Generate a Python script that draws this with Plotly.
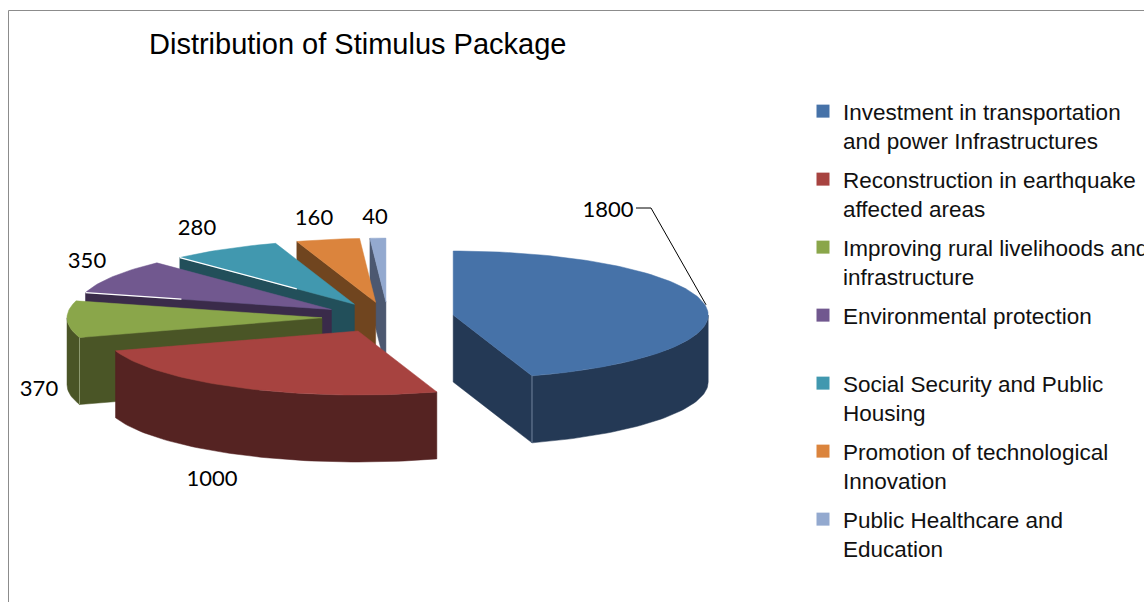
import math
import plotly.graph_objects as go

categories = [
    "Investment in transportation<br>and power Infrastructures",
    "Reconstruction in earthquake<br>affected areas",
    "Improving rural livelihoods and<br>infrastructure",
    "Environmental protection<br> ",
    "Social Security and Public<br>Housing",
    "Promotion of technological<br>Innovation",
    "Public Healthcare and<br>Education",
]
values = [1800, 1000, 370, 350, 280, 160, 40]
top_colors = ["#4672A8", "#A74340", "#8AA64A", "#71588F", "#4198AF", "#DB843D", "#93A9CF"]
side_colors = ["#243955", "#552322", "#4A5526", "#3A2B4A", "#224F5A", "#70451F", "#4C5870"]
label_xy = [(608, 211), (212, 480), (39, 390), (87, 262), (197, 229), (314, 219), (375, 218)]

# pie geometry, in page pixels
CX, CY = 388.0, 317.4
RX, RY, DEPTH = 255.0, 64.0, 67.0
EX, EY = 66.0, 15.3


def pt(apex, deg, r=1.0):
    a = math.radians(deg)
    return apex[0] + RX * r * math.sin(a), apex[1] - RY * r * math.cos(a)


def arc(apex, a0, a1):
    n = max(2, int(abs(a1 - a0) / 1.5) + 1)
    return [pt(apex, a0 + (a1 - a0) * i / n) for i in range(n + 1)]


def add_poly(xs, ys, poly):
    xs.extend([p[0] for p in poly] + [poly[0][0], None])
    ys.extend([p[1] for p in poly] + [poly[0][1], None])


total = sum(values)
wedges = []
acc = 0.0
for v in values:
    a0 = acc / total * 360
    acc += v
    a1 = acc / total * 360
    mid = math.radians((a0 + a1) / 2)
    wedges.append((a0, a1, (CX + EX * math.sin(mid), CY - EY * math.cos(mid))))

fig = go.Figure()

# painter's order: back slices first
order = [6, 5, 4, 3, 2, 1, 0]
for i in order:
    a0, a1, apex = wedges[i]
    xs, ys = [], []
    for edge, visible in ((a0, math.sin(math.radians(a0)) < -1e-6),
                          (a1, math.sin(math.radians(a1)) > 1e-6)):
        if visible:
            p = pt(apex, edge)
            add_poly(xs, ys, [apex, p, (p[0], p[1] + DEPTH), (apex[0], apex[1] + DEPTH)])
    lo, hi = max(a0, 90), min(a1, 270)
    if hi > lo:
        front = arc(apex, lo, hi)
        add_poly(xs, ys, front + [(x, y + DEPTH) for x, y in reversed(front)])
    if xs:
        fig.add_trace(go.Scatter(x=xs, y=ys, mode="lines", fill="toself",
                                 fillcolor=side_colors[i],
                                 line=dict(color=side_colors[i], width=0.5),
                                 hoverinfo="skip", showlegend=False))
    top = [apex] + arc(apex, a0, a1)
    tx, ty = [], []
    add_poly(tx, ty, top)
    fig.add_trace(go.Scatter(x=tx, y=ty, mode="lines", fill="toself",
                             fillcolor=top_colors[i],
                             line=dict(color=top_colors[i], width=0.5),
                             hoverinfo="text", text=str(values[i]), showlegend=False))

# white hairlines along the rear edges, light seams on the front corners
for i, r_in in ((3, 0.61), (4, 0.33)):
    a0, _, apex = wedges[i]
    p, q = pt(apex, a0), pt(apex, a0, r_in)
    fig.add_trace(go.Scatter(x=[p[0], q[0]], y=[p[1], q[1]], mode="lines",
                             line=dict(color="#FFFFFF", width=1.2),
                             hoverinfo="skip", showlegend=False))
for i, edge, c in ((0, 1, "#7387A0"), (2, 0, "#8E9A70")):
    apex = wedges[i][2]
    p = pt(apex, wedges[i][edge])
    fig.add_trace(go.Scatter(x=[p[0], p[0]], y=[p[1], p[1] + DEPTH], mode="lines",
                             line=dict(color=c, width=1),
                             hoverinfo="skip", showlegend=False))

# leader line of the largest slice
lead_end = pt(wedges[0][2], 88)
fig.add_trace(go.Scatter(x=[636, 651, lead_end[0] - 2], y=[208, 208, lead_end[1] - 8], mode="lines",
                         line=dict(color="#000000", width=1),
                         hoverinfo="skip", showlegend=False))

# value labels
fig.add_trace(go.Scatter(x=[p[0] for p in label_xy], y=[p[1] for p in label_xy],
                         mode="text", text=[str(v) for v in values],
                         textfont=dict(family="Lato", size=22, color="#000000"),
                         hoverinfo="skip", showlegend=False))

# legend
for name, c in zip(categories, top_colors):
    fig.add_trace(go.Scatter(x=[None], y=[None], mode="markers", name=name, legendgroup=name,
                             marker=dict(symbol="square", size=13, color=c)))

fig.update_layout(
    width=1144, height=602, autosize=False,
    margin=dict(l=0, r=0, t=0, b=0, autoexpand=False),
    paper_bgcolor="white", plot_bgcolor="white",
    xaxis=dict(range=[0, 1144], visible=False, fixedrange=True),
    yaxis=dict(range=[602, 0], visible=False, fixedrange=True),
    legend=dict(x=803 / 1144, y=1 - 90 / 602, xanchor="left", yanchor="top", valign="top",
                font=dict(family="Liberation Sans", size=22.5, color="#111111"),
                bgcolor="rgba(0,0,0,0)", tracegroupgap=6.5, itemclick=False, itemdoubleclick=False),
    title=dict(text="Distribution of Stimulus Package", x=149 / 1144, xanchor="left",
               y=1 - 44 / 602, yanchor="middle",
               font=dict(family="Liberation Sans", size=29, color="#000000")),
    shapes=[
        dict(type="line", xref="x", yref="y", x0=8.5, x1=1144, y0=10.5, y1=10.5,
             line=dict(color="#8C8C8C", width=1)),
        dict(type="line", xref="x", yref="y", x0=8.5, x1=8.5, y0=10.5, y1=602,
             line=dict(color="#8C8C8C", width=1)),
    ],
)
fig.write_html("out.html", config={"displayModeBar": False},
               post_script="document.body.style.margin='0';document.body.style.overflow='hidden';")
